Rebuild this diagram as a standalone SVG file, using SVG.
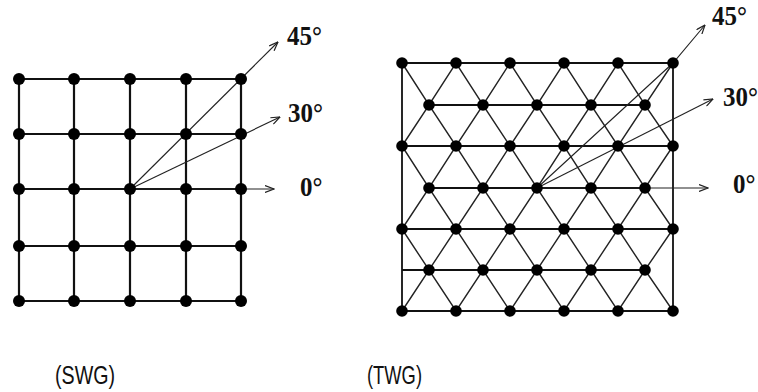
<svg xmlns="http://www.w3.org/2000/svg" width="758" height="392" viewBox="0 0 758 392">
<style>
.grid{stroke:#111;stroke-width:2.2;fill:none;stroke-linecap:square}
.tgrid{stroke:#111;stroke-width:1.8;fill:none}
.diag{stroke:#222;stroke-width:1.4;fill:none}
.arr{stroke:#222;stroke-width:1.1;fill:none;marker-end:url(#ah)}
.node{fill:#000}
.deg{font-family:"Liberation Serif","Times New Roman",serif;font-weight:bold;font-size:25px;fill:#111}
.cap{font-family:"Liberation Sans",Arial,sans-serif;font-size:20px;fill:#111}
</style>
<defs>
<marker id="ah" viewBox="0 0 10 8" refX="9.5" refY="4" markerWidth="10" markerHeight="8" markerUnits="userSpaceOnUse" orient="auto">
<path d="M0.5,0.5 L9.5,4 L0.5,7.5" fill="none" stroke="#222" stroke-width="1.2"/>
</marker>
</defs>
<rect width="758" height="392" fill="#fff"/>
<g id="swg-grid">
<path class="grid" d="M19,79H241M19,134H241M19,189H241M19,246H241M19,301H241M19,79V301M74,79V301M130,79V301M186,79V301M241,79V301"/>
</g>
<g id="twg-grid">
<path class="tgrid" d="M402,63V311M673,63V311M402,63H673M402,146H673M402,229H673M402,311H673M429,105H645M429,188H645M402,270H645"/>
<path class="diag" d="M402,63L429,105L456,63L483,105L510,63L537,105L564,63L591,105L618,63L645,105L673,63
M402,146L429,105L456,146L483,105L510,146L537,105L564,146L591,105L618,146L645,105L673,146
M402,146L429,188L456,146L483,188L510,146L537,188L564,146L591,188L618,146L645,188L673,146
M402,229L429,188L456,229L483,188L510,229L537,188L564,229L591,188L618,229L645,188L673,229
M402,229L429,270L456,229L483,270L510,229L537,270L564,229L591,270L618,229L645,270L673,229
M402,311L429,270L456,311L483,270L510,311L537,270L564,311L591,270L618,311L645,270L673,311"/>
</g>
<g id="connectors">
<path class="arr" d="M130,189L278,42"/>
<path class="arr" d="M130,189L280,117"/>
<path class="arr" d="M130,189L274,189"/>
<path class="arr" d="M537,188L673,63L705,25"/>
<path class="arr" d="M537,188L713,99"/>
<path class="arr" d="M537,188L708,188"/>
</g>
<g id="swg-nodes" class="node">
<circle cx="19" cy="79" r="6"/><circle cx="74" cy="79" r="6"/><circle cx="130" cy="79" r="6"/><circle cx="186" cy="79" r="6"/><circle cx="241" cy="79" r="6"/>
<circle cx="19" cy="134" r="6"/><circle cx="74" cy="134" r="6"/><circle cx="130" cy="134" r="6"/><circle cx="186" cy="134" r="6"/><circle cx="241" cy="134" r="6"/>
<circle cx="19" cy="189" r="6"/><circle cx="74" cy="189" r="6"/><circle cx="130" cy="189" r="6"/><circle cx="186" cy="189" r="6"/><circle cx="241" cy="189" r="6"/>
<circle cx="19" cy="246" r="6"/><circle cx="74" cy="246" r="6"/><circle cx="130" cy="246" r="6"/><circle cx="186" cy="246" r="6"/><circle cx="241" cy="246" r="6"/>
<circle cx="19" cy="301" r="6"/><circle cx="74" cy="301" r="6"/><circle cx="130" cy="301" r="6"/><circle cx="186" cy="301" r="6"/><circle cx="241" cy="301" r="6"/>
</g>
<g id="twg-nodes" class="node">
<circle cx="402" cy="63" r="5.8"/><circle cx="456" cy="63" r="5.8"/><circle cx="510" cy="63" r="5.8"/><circle cx="564" cy="63" r="5.8"/><circle cx="618" cy="63" r="5.8"/><circle cx="673" cy="63" r="5.8"/>
<circle cx="429" cy="105" r="5.8"/><circle cx="483" cy="105" r="5.8"/><circle cx="537" cy="105" r="5.8"/><circle cx="591" cy="105" r="5.8"/><circle cx="645" cy="105" r="5.8"/>
<circle cx="402" cy="146" r="5.8"/><circle cx="456" cy="146" r="5.8"/><circle cx="510" cy="146" r="5.8"/><circle cx="564" cy="146" r="5.8"/><circle cx="618" cy="146" r="5.8"/><circle cx="673" cy="146" r="5.8"/>
<circle cx="429" cy="188" r="5.8"/><circle cx="483" cy="188" r="5.8"/><circle cx="537" cy="188" r="5.8"/><circle cx="591" cy="188" r="5.8"/><circle cx="645" cy="188" r="5.8"/>
<circle cx="402" cy="229" r="5.8"/><circle cx="456" cy="229" r="5.8"/><circle cx="510" cy="229" r="5.8"/><circle cx="564" cy="229" r="5.8"/><circle cx="618" cy="229" r="5.8"/><circle cx="673" cy="229" r="5.8"/>
<circle cx="429" cy="270" r="5.8"/><circle cx="483" cy="270" r="5.8"/><circle cx="537" cy="270" r="5.8"/><circle cx="591" cy="270" r="5.8"/><circle cx="645" cy="270" r="5.8"/>
<circle cx="402" cy="311" r="5.8"/><circle cx="456" cy="311" r="5.8"/><circle cx="510" cy="311" r="5.8"/><circle cx="564" cy="311" r="5.8"/><circle cx="618" cy="311" r="5.8"/><circle cx="673" cy="311" r="5.8"/>
</g>
<g id="labels">
<text class="deg" transform="translate(287,45) scale(1,1.12)">45°</text>
<text class="deg" transform="translate(288,122) scale(1,1.12)">30°</text>
<text class="deg" transform="translate(300,196) scale(1,1.12)">0°</text>
<text class="deg" transform="translate(712,25) scale(1,1.12)">45°</text>
<text class="deg" transform="translate(723,106) scale(1,1.12)">30°</text>
<text class="deg" transform="translate(733,193) scale(1,1.12)">0°</text>
<text class="cap" transform="translate(55,384) scale(1,1.28)" textLength="60" lengthAdjust="spacingAndGlyphs">(SWG)</text>
<text class="cap" transform="translate(367,384) scale(1,1.28)" textLength="55" lengthAdjust="spacingAndGlyphs">(TWG)</text>
</g>
</svg>
